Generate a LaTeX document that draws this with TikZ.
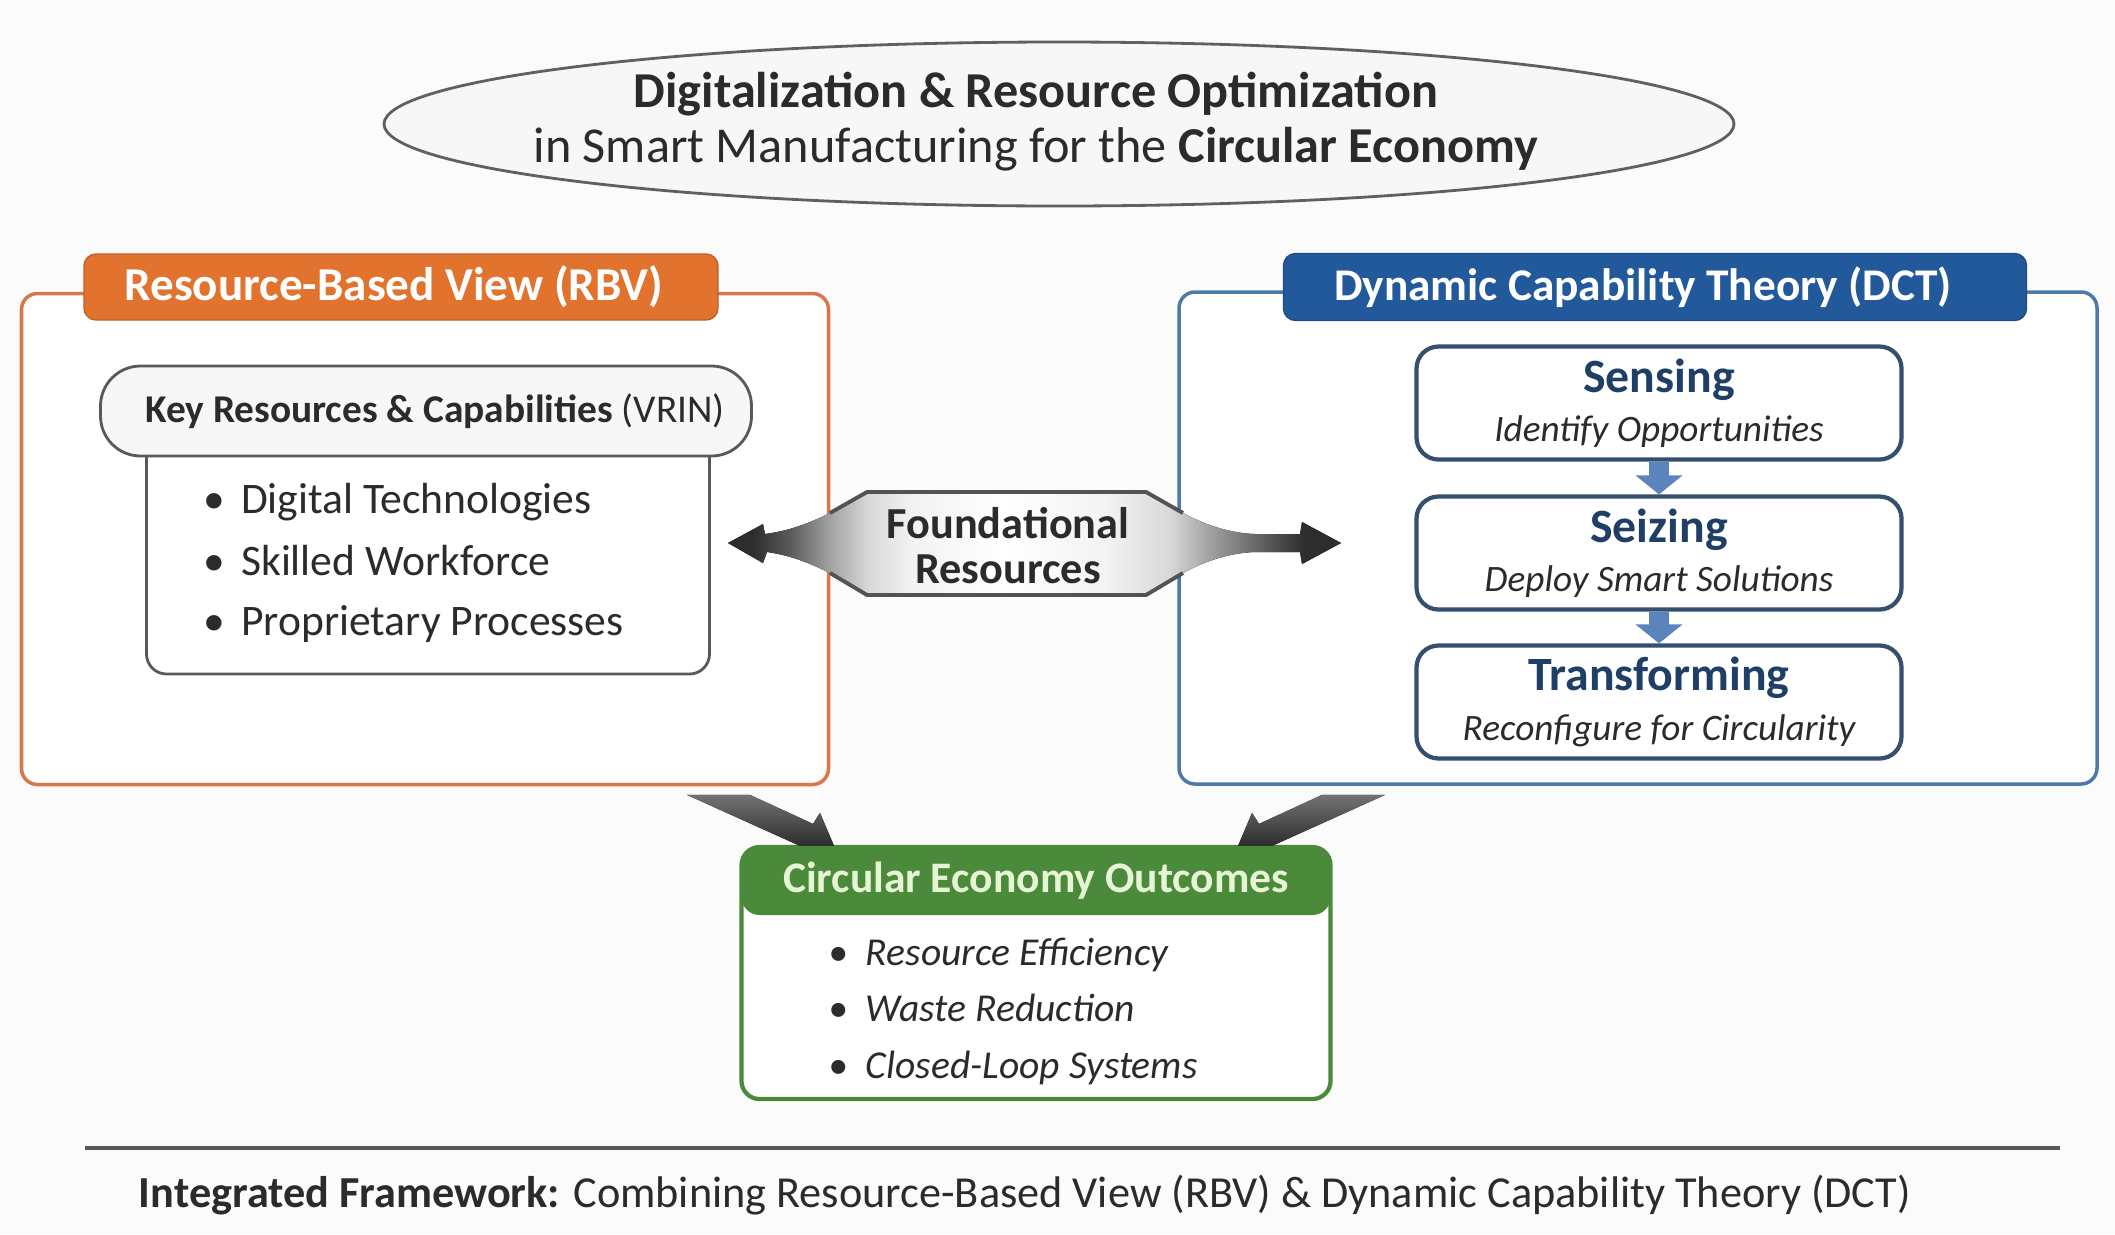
\documentclass[tikz,border=0pt]{standalone}
\usepackage{fontspec}
\setmainfont{Carlito}
\usetikzlibrary{shapes.geometric}
\usetikzlibrary{positioning}
\usetikzlibrary{arrows.meta}
\usetikzlibrary{calc}
\definecolor{bgcol}{HTML}{FBFBFB}
\definecolor{txtdark}{HTML}{2B2B2B}
\definecolor{rbvorange}{HTML}{E2732F}
\definecolor{rbvline}{HTML}{D7774A}
\definecolor{dctblue}{HTML}{22599B}
\definecolor{dctline}{HTML}{4E7AA8}
\definecolor{stepblue}{HTML}{1F3F66}
\definecolor{stepline}{HTML}{34506E}
\definecolor{steparr}{HTML}{5B84BD}
\definecolor{cegreen}{HTML}{4B8A3B}
\definecolor{celight}{HTML}{E6F6D4}
\pgfdeclarehorizontalshading{foundshade}{100bp}{color(0bp)=(gray!35!black); color(27bp)=(gray!35!black); color(30bp)=(gray!70!black); color(33.5bp)=(gray!70); color(36.5bp)=(gray!30); color(40bp)=(gray!10); color(47.7bp)=(white); color(56bp)=(gray!10); color(61bp)=(gray!30); color(64bp)=(gray!70); color(69bp)=(gray!70!black); color(72bp)=(gray!35!black); color(100bp)=(gray!35!black)}
\tikzset{
    titleoval/.style = {draw=gray!75!black, thick, fill=gray!6},
    titletext/.style = {align=center, inner sep=0pt, text=txtdark, font=\fontsize{14.3}{15.6}\selectfont},
    rbvframe/.style = {rectangle, rounded corners=1.6mm, draw=rbvline, line width=1pt, fill=white, minimum width=80.7mm, minimum height=49.1mm},
    dctframe/.style = {rectangle, rounded corners=1.6mm, draw=dctline, line width=1pt, fill=white, minimum width=91.8mm, minimum height=49.2mm},
    rbvhead/.style = {rectangle, rounded corners=1.2mm, fill=rbvorange, draw=rbvorange!85!black, minimum width=63.4mm, minimum height=6.6mm, text=white, font=\fontsize{13.4}{16}\selectfont\bfseries},
    dcthead/.style = {rectangle, rounded corners=1.2mm, fill=dctblue, draw=dctblue!85!black, minimum width=74.3mm, minimum height=6.7mm, text=white, font=\fontsize{12.9}{15}\selectfont\bfseries},
    pillbox/.style = {rectangle, rounded corners=4mm, draw=gray!70!black, thick, fill=gray!6, minimum width=65.1mm, minimum height=9mm, text=txtdark, font=\fontsize{11.2}{13}\selectfont},
    listbox/.style = {rectangle, rounded corners=2mm, draw=gray!70!black, thick, fill=white, minimum width=56.3mm, minimum height=24.4mm},
    item/.style = {anchor=west, inner sep=0pt, text=txtdark, font=\fontsize{12.4}{14}\selectfont},
    ceitem/.style = {anchor=west, inner sep=0pt, text=txtdark, font=\fontsize{11.25}{13}\selectfont\itshape},
    stepbox/.style = {rectangle, rounded corners=2.2mm, draw=stepline, line width=1.2pt, fill=white, minimum width=48.5mm, minimum height=11.3mm, align=center, inner sep=0pt, font=\fontsize{10.6}{12.6}\selectfont},
    steparrow/.style = {-{Triangle[width=4.6mm,length=1.9mm]}, line width=2mm, draw=steparr},
    foundtext/.style = {align=center, inner sep=0pt, text=txtdark, font=\fontsize{12.6}{12.8}\selectfont\bfseries},
    foundarrow/.style = {shading=foundshade},
    foundedge/.style = {draw=gray!65!black, line width=1.1pt},
    fatdown/.style = {top color=gray!90!black, bottom color=gray!35!black},
    ceframe/.style = {rectangle, rounded corners=1.8mm, draw=cegreen, line width=1.2pt, fill=white, minimum width=58.9mm, minimum height=25.2mm, path picture={\fill[cegreen] (path picture bounding box.north west) rectangle ([yshift=-6.8mm]path picture bounding box.north east);}},
    cehead/.style = {text=celight, font=\fontsize{12.4}{14.5}\selectfont\bfseries},
    footrule/.style = {draw=gray!70!black, line width=1.2pt},
    foottext/.style = {text=txtdark, font=\fontsize{12.6}{15}\selectfont}
}
\newcommand{\StepT}[1]{{\fontsize{13.6}{16}\selectfont\bfseries\color{stepblue}#1}}
\newcommand{\StepS}[1]{{\fontsize{10.6}{12.6}\selectfont\itshape\color{txtdark}#1}}

\begin{document}
\begin{tikzpicture}[x=0.1mm,y=-0.1mm]
\fill[bgcol] (0,0) rectangle (2115,1234);
\useasboundingbox (0,0) rectangle (2115,1234);
\draw[titleoval] (1059,124) ellipse (675 and 82);
\node[titletext] at (1036,122) (title) {\textbf{Digitalization \& Resource Optimization}\\in Smart Manufacturing for the \textbf{Circular Economy}};
%
\node[rbvframe] at (425,539) (rbv) {};
\node[rbvhead] at (401,287) (rbvh) {Resource-Based View (RBV)\hspace*{1.4mm}};
\node[listbox] at (428,552) (vrinlist) {};
\node[pillbox] at (426,411) (vrin) {\hspace*{1.8mm}\textbf{Key Resources \& Capabilities} (VRIN)};
\node[item] at (203,502) (dig) {\textbullet\hspace{4.5pt}Digital Technologies};
\node[item] at (203,561) (skill) {\textbullet\hspace{4.5pt}Skilled Workforce};
\node[item] at (203,624) (prop) {\textbullet\hspace{4.5pt}Proprietary Processes};
%
\node[dctframe] at (1638,538) (dct) {};
\node[dcthead] at (1655,287) (dcth) {Dynamic Capability Theory (DCT)\hspace*{2.4mm}};
\node[stepbox] at (1659,403) (sense) {\StepT{Sensing}\\[1.5pt]\StepS{Identify Opportunities}};
\node[stepbox] at (1659,553) (seize) {\StepT{Seizing}\\[1.5pt]\StepS{Deploy Smart Solutions}};
\node[stepbox] at (1659,702) (transf) {\StepT{Transforming}\\[1.5pt]\StepS{Reconfigure for Circularity}};
\draw[steparrow] (sense) -- (seize);
\draw[steparrow] (seize) -- (transf);
%
\coordinate (found) at (1006,543);
\begin{scope}[shift={(found)}]
\fill[foundarrow] (-278,0) -- (-243,-19) -- (-241,-9) .. controls (-211,-13) and (-191,-23) .. (-176,-30) -- (-139,-51) -- (140,-51) -- (177,-30) .. controls (194,-21) and (219,-10) .. (249,-9) -- (294,-9) -- (296,-21) -- (335,0) -- (296,21) -- (294,9) -- (249,9) .. controls (219,10) and (194,21) .. (177,30) -- (140,52) -- (-139,52) -- (-176,30) .. controls (-191,23) and (-211,13) .. (-239,9) -- (-243,20) -- cycle;
\draw[foundedge] (-176,-30) -- (-139,-51) -- (140,-51) -- (177,-30);
\draw[foundedge] (-176,30) -- (-139,52) -- (140,52) -- (177,30);
\end{scope}
\node[foundtext] at (1008,546) (foundlbl) {Foundational\\Resources};
%
\node[ceframe] at (1036,973) (outc) {};
\node[cehead] at (1036,881) (outh) {Circular Economy Outcomes};
\node[ceitem] at (828,955) (eff) {\textbullet\hspace{5pt}Resource Efficiency};
\node[ceitem] at (828,1008) (waste) {\textbullet\hspace{5pt}Waste Reduction};
\node[ceitem] at (828,1068) (loop) {\textbullet\hspace{5pt}Closed-Loop Systems};
\begin{scope}[shift={(outc.north)}]
\fill[fatdown] (-349,-50) -- (-286,-50) -- (-223,-21) -- (-216,-32) -- (-202,1) -- (-236,1) -- cycle;
\fill[fatdown] (349,-50) -- (286,-50) -- (223,-21) -- (216,-32) -- (202,1) -- (236,1) -- cycle;
\end{scope}
%
\draw[footrule] (85,1148) -- (2060,1148);
\node[foottext] at (1025,1195) (foot) {\textbf{Integrated Framework:} Combining Resource-Based View (RBV) \& Dynamic Capability Theory (DCT)};
\end{tikzpicture}
\end{document}
